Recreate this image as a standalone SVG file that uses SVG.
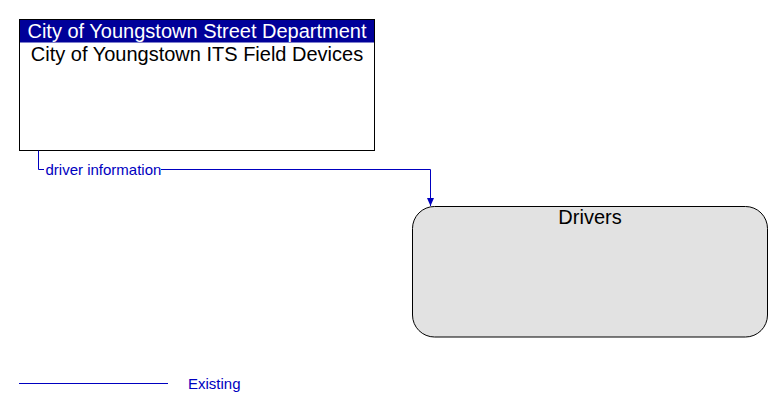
<svg xmlns="http://www.w3.org/2000/svg" width="783" height="412" viewBox="0 0 783 412">
<style>
text{font-family:"Liberation Sans",Arial,sans-serif}
.title{font-size:20px;fill:#000;text-anchor:middle}
.hdr{font-size:20px;fill:#fff;text-anchor:middle}
.flow{fill:none;stroke:#0000c0;stroke-width:1}
.lbl{font-size:15px;fill:#0000c0}
</style>
<defs>
<marker id="arr" markerWidth="8" markerHeight="7" refX="8" refY="3.5" orient="auto" markerUnits="userSpaceOnUse">
<path d="M0,0 L8,3.5 L0,7 Z" fill="#0000c0"/>
</marker>
</defs>
<rect width="783" height="412" fill="#fff"/>
<g id="node-its">
<rect x="19.5" y="19.5" width="355" height="131" fill="#fff" stroke="#000"/>
<rect x="20" y="20" width="354" height="22.5" fill="#000099"/>
<text class="hdr" x="197" y="37.5">City of Youngstown Street Department</text>
<text class="title" x="197" y="60.5">City of Youngstown ITS Field Devices</text>
</g>
<g id="node-drivers">
<rect x="412.5" y="206.5" width="355" height="130.5" rx="22" ry="22" fill="#e2e2e2" stroke="#000"/>
<text class="title" x="590" y="224">Drivers</text>
</g>
<g id="connectors">
<path class="flow" d="M38.5,150.5 V169.5 H44"/>
<path class="flow" d="M161,169.5 H430.5 V206" marker-end="url(#arr)"/>
<text class="lbl" x="45.5" y="174.5">driver information</text>
</g>
<g id="legend">
<line x1="19" y1="383.5" x2="168" y2="383.5" stroke="#0000c0" stroke-width="1"/>
<text class="lbl" x="188" y="388.5">Existing</text>
</g>
</svg>
